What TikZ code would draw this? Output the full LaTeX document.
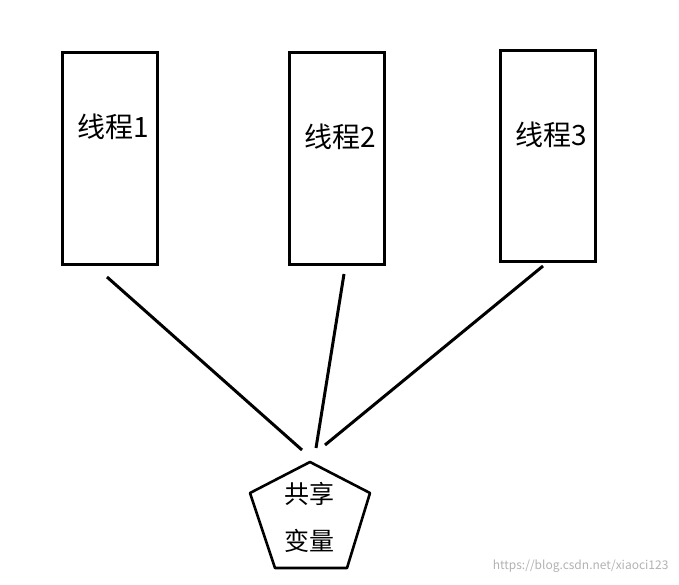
\documentclass[tikz,border=0pt]{standalone}
\usepackage{fontspec}
\setmainfont{Noto Sans CJK SC}
\begin{document}
\begin{tikzpicture}[x=1pt,y=-1pt]
        \tikzset{thread/.style={draw,line width=3pt,minimum width=95pt,minimum height=211pt,inner sep=0pt},
                 link/.style={line width=3pt}}
        \useasboundingbox (0,0) rectangle (679,585);

        % Threads
        \node (thread1) [thread] at (109.5,158.5) {};
        \node (thread2) [thread] at (337,158.5) {};
        \node (thread3) [thread] at (548,156) {};
        \node at (113,127) {\fontsize{28pt}{32pt}\selectfont 线程1};
        \node at (340,137) {\fontsize{28pt}{32pt}\selectfont 线程2};
        \node at (551,135) {\fontsize{28pt}{32pt}\selectfont 线程3};

        % Shared variable
        \draw [line width=2.6pt,line join=round] (310,462) -- (370,493) -- (347,568) -- (275,568) -- (250,493) -- cycle;
        \node (shared) [align=center,font=\fontsize{25pt}{47pt}\selectfont] at (309,517) {共享\\变量};

        % Links
        \coordinate (a1) at (107,277); \coordinate (b1) at (302,450);
        \coordinate (a2) at (344,274); \coordinate (b2) at (316,448);
        \coordinate (a3) at (543,266); \coordinate (b3) at (325,445);
        \draw [link] (a1) -- (b1);
        \draw [link] (a2) -- (b2);
        \draw [link] (a3) -- (b3);

        \node [text=gray!60,font=\fontsize{12pt}{14pt}\selectfont,anchor=east] at (672,566) {https://blog.csdn.net/xiaoci123};
\end{tikzpicture}
\end{document}
